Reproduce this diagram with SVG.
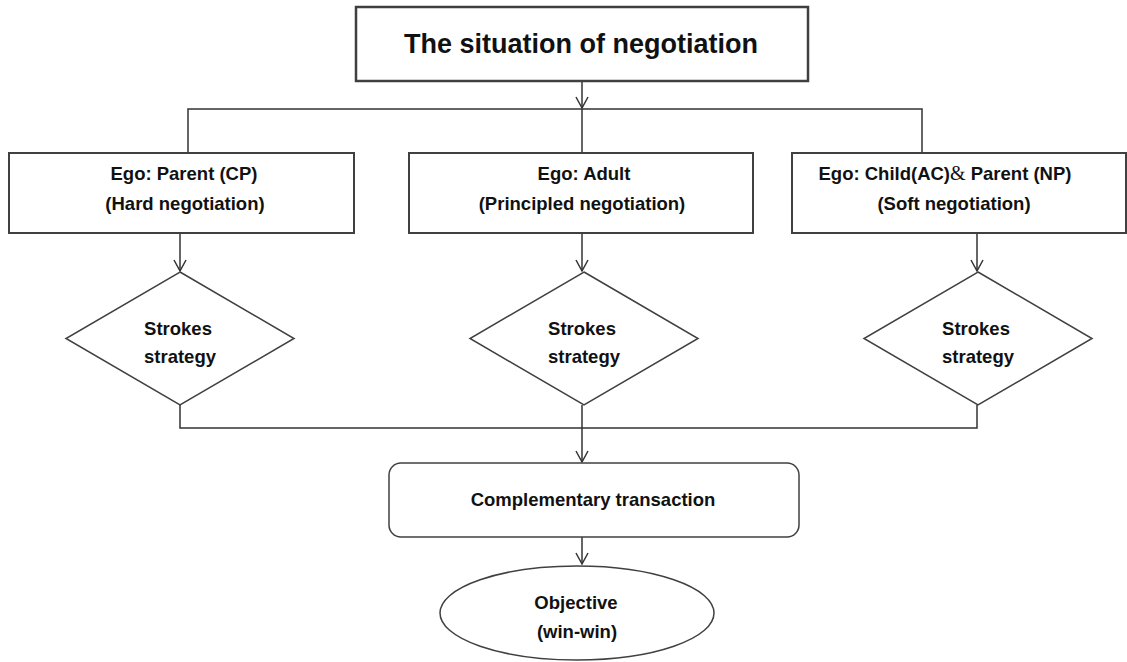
<svg xmlns="http://www.w3.org/2000/svg" width="1127" height="662" viewBox="0 0 1127 662">
<style>
.box{fill:#fff;stroke:#404040;stroke-width:2}
.ln{fill:none;stroke:#333;stroke-width:1.5}
.t{font-family:"Liberation Sans",Arial,sans-serif;font-weight:bold;font-size:18.5px;fill:#111;text-anchor:middle}
.amp{font-family:"Liberation Serif","Times New Roman",serif;font-weight:normal;font-size:20px}
</style>
<defs>
<marker id="ah" viewBox="0 0 14 14" refX="12" refY="7" markerWidth="14" markerHeight="14" markerUnits="userSpaceOnUse" orient="auto">
<path d="M1,1 L12,7 L1,13" fill="none" stroke="#333" stroke-width="1.5"/>
</marker>
</defs>
<rect width="1127" height="662" fill="#fff"/>
<g id="connectors">
<line class="ln" x1="582" y1="81" x2="582" y2="108" marker-end="url(#ah)"/>
<polyline class="ln" points="188,153 188,109 922,109 922,153"/>
<line class="ln" x1="582" y1="109" x2="582" y2="153"/>
<line class="ln" x1="180" y1="233" x2="180" y2="271" marker-end="url(#ah)"/>
<line class="ln" x1="582" y1="233" x2="582" y2="271" marker-end="url(#ah)"/>
<line class="ln" x1="977" y1="233" x2="977" y2="271" marker-end="url(#ah)"/>
<polyline class="ln" points="180,405 180,428 977,428 977,405"/>
<line class="ln" x1="582" y1="405" x2="582" y2="428"/>
<line class="ln" x1="582" y1="428" x2="582" y2="462" marker-end="url(#ah)"/>
<line class="ln" x1="582" y1="537" x2="582" y2="564" marker-end="url(#ah)"/>
</g>
<g id="title">
<rect class="box" x="356" y="7" width="452" height="74" style="stroke-width:2.5"/>
<text class="t" x="581" y="53" style="font-size:27px">The situation of negotiation</text>
</g>
<g id="ego-parent">
<rect class="box" x="9" y="153" width="345" height="80"/>
<text class="t" x="184" y="180">Ego: Parent (CP)</text>
<text class="t" x="185" y="210">(Hard negotiation)</text>
</g>
<g id="ego-adult">
<rect class="box" x="409" y="153" width="344" height="80"/>
<text class="t" x="584" y="180">Ego: Adult</text>
<text class="t" x="582" y="210">(Principled negotiation)</text>
</g>
<g id="ego-child">
<rect class="box" x="792" y="153" width="334" height="80"/>
<text class="t" x="945" y="180">Ego: Child(AC)<tspan class="amp">&amp;</tspan> Parent (NP)</text>
<text class="t" x="954" y="210">(Soft negotiation)</text>
</g>
<g id="strokes-1">
<polygon class="box" points="180,272 294,338.5 180,405 66,338.5" style="stroke-width:1.5"/>
<text class="t" x="178" y="335">Strokes</text>
<text class="t" x="180" y="363">strategy</text>
</g>
<g id="strokes-2">
<polygon class="box" points="584,272 698,338.5 584,405 470,338.5" style="stroke-width:1.5"/>
<text class="t" x="582" y="335">Strokes</text>
<text class="t" x="584" y="363">strategy</text>
</g>
<g id="strokes-3">
<polygon class="box" points="978,272 1092,338.5 978,405 864,338.5" style="stroke-width:1.5"/>
<text class="t" x="976" y="335">Strokes</text>
<text class="t" x="978" y="363">strategy</text>
</g>
<g id="complementary">
<rect class="box" x="389" y="463" width="410" height="74" rx="12" ry="12" style="stroke-width:1.5"/>
<text class="t" x="593" y="506">Complementary transaction</text>
</g>
<g id="objective">
<ellipse class="box" cx="577" cy="613" rx="137" ry="47" style="stroke-width:1.5"/>
<text class="t" x="576" y="609">Objective</text>
<text class="t" x="577" y="638">(win-win)</text>
</g>
</svg>
